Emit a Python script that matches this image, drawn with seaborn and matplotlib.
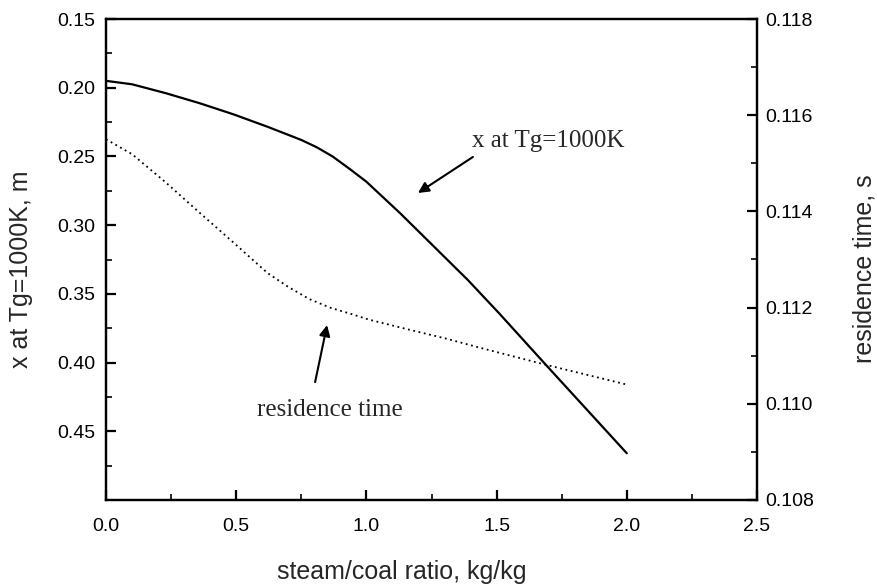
import matplotlib
matplotlib.use("Agg")
import matplotlib.pyplot as plt
from matplotlib.ticker import FixedLocator, MultipleLocator, FormatStrFormatter
import seaborn as sns
import pandas as pd

# ---- data ----
ratio_x = [0.0, 0.10, 0.23, 0.36, 0.49, 0.62, 0.75, 0.81, 0.87, 0.94, 1.0,
           1.13, 1.26, 1.39, 1.51, 1.69, 2.0]
x_at_1000K = [0.195, 0.1975, 0.204, 0.2113, 0.2194, 0.2284, 0.238, 0.2434,
              0.250, 0.2597, 0.2684, 0.2914, 0.3157, 0.340, 0.3642, 0.4018,
              0.466]

ratio_t = [0.0, 0.10, 0.23, 0.36, 0.49, 0.62, 0.70, 0.78, 0.86, 0.94, 1.01,
           1.15, 1.31, 1.44, 1.69, 2.0]
residence_time = [0.1155, 0.11519, 0.1146, 0.11397, 0.11335, 0.11272,
                  0.11243, 0.11218, 0.11200, 0.11187, 0.11175, 0.11156,
                  0.11135, 0.11116, 0.11081, 0.1104]

left_ticks = [0.15, 0.20, 0.25, 0.30, 0.35, 0.40, 0.45]
left_minor = [0.175, 0.225, 0.275, 0.325, 0.375, 0.425, 0.475]
right_ticks = [0.108, 0.110, 0.112, 0.114, 0.116, 0.118]
x_ticks = [0.0, 0.5, 1.0, 1.5, 2.0, 2.5]

df_x = pd.DataFrame({"ratio": ratio_x, "x": x_at_1000K})
df_t = pd.DataFrame({"ratio": ratio_t, "t": residence_time})

sns.set_style("ticks")
plt.rcParams["font.family"] = ["Liberation Sans", "DejaVu Sans"]

fig = plt.figure(figsize=(8.78, 5.86), dpi=100)
ax = fig.add_subplot(111)
fig.subplots_adjust(left=106/878, right=757/878, top=1-19/586, bottom=1-500/586)
ax2 = ax.twinx()

sns.lineplot(data=df_x, x="ratio", y="x", ax=ax, color="black", lw=1.6,
             sort=False, estimator=None)
sns.lineplot(data=df_t, x="ratio", y="t", ax=ax2, color="black", lw=1.3,
             linestyle=(0, (1, 2)), sort=False, estimator=None)

ax.set_xlim(0, 2.5)
ax.set_ylim(0.50, 0.15)
ax2.set_ylim(0.108, 0.118)

ax.xaxis.set_major_locator(FixedLocator(x_ticks))
ax.xaxis.set_minor_locator(MultipleLocator(0.25))
ax.xaxis.set_major_formatter(FormatStrFormatter("%.1f"))
ax.yaxis.set_major_locator(FixedLocator(left_ticks))
ax.yaxis.set_minor_locator(FixedLocator(left_minor))
ax.yaxis.set_major_formatter(FormatStrFormatter("%.2f"))
ax2.yaxis.set_major_locator(FixedLocator(right_ticks))
ax2.yaxis.set_minor_locator(MultipleLocator(0.001))
ax2.yaxis.set_major_formatter(FormatStrFormatter("%.3f"))

for a in (ax, ax2):
    for s in a.spines.values():
        s.set_linewidth(1.6)
        s.set_color("black")
ax.tick_params(axis="both", which="major", direction="in", length=7, width=1.6,
               labelsize=14, colors="black", top=False, right=False, pad=8)
ax.tick_params(axis="both", which="minor", direction="in", length=4, width=1.4,
               top=False, right=False)
ax.tick_params(axis="x", pad=13)
ax2.tick_params(axis="y", which="major", direction="in", length=7, width=1.6,
                labelsize=14, colors="black", pad=6)
ax2.tick_params(axis="y", which="minor", direction="in", length=4, width=1.4)

ax.set_xlabel("steam/coal ratio, kg/kg", fontsize=18)
ax.set_ylabel("x at Tg=1000K, m", fontsize=18)
ax2.set_ylabel("residence time, s", fontsize=18)
ax.xaxis.set_label_coords(0.455, -0.125)
ax.yaxis.set_label_coords(-0.112, 0.48)
ax2.yaxis.set_label_coords(1.146, 0.48)

serif = ["Liberation Serif", "DejaVu Serif"]
ax.text(1.70, 0.2388, "x at Tg=1000K", fontsize=18, family=serif,
        ha="center", va="center")
ax.annotate("", xy=(1.198, 0.2766), xytext=(1.409, 0.2504),
            arrowprops=dict(arrowstyle="-|>", color="black", lw=1.5,
                            mutation_scale=16, shrinkA=0, shrinkB=0))
ax.text(0.86, 0.4346, "residence time", fontsize=18, family=serif,
        ha="center", va="center")
ax.annotate("", xy=(0.849, 0.3727), xytext=(0.803, 0.4142),
            arrowprops=dict(arrowstyle="-|>", color="black", lw=1.5,
                            mutation_scale=16, shrinkA=0, shrinkB=0))

fig.savefig("out.png", dpi=100)
